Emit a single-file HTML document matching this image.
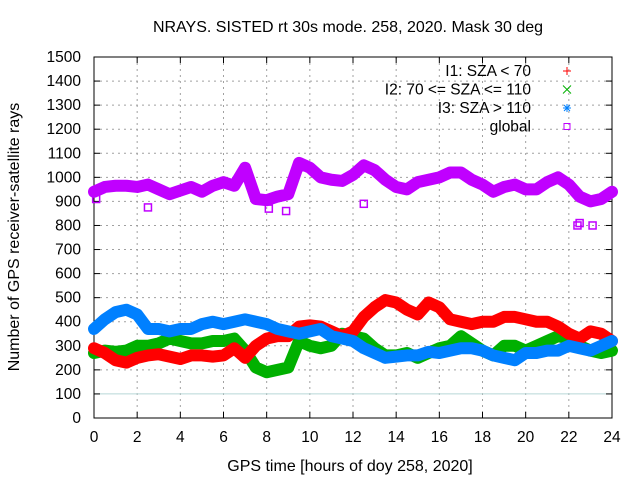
<!DOCTYPE html>
<html><head><meta charset="utf-8"><style>
body{margin:0;background:#fff}
svg{display:block;font-family:"Liberation Sans",sans-serif;font-size:15.5px}
</style></head><body>
<svg id="chart" width="640" height="480">
<rect width="640" height="480" fill="#fff"/>
<g id="grid"></g>
<g id="axes"></g>
<g id="series"></g>
<text x="348" y="32" text-anchor="middle" font-size="16">NRAYS. SISTED rt 30s mode. 258, 2020. Mask 30 deg</text>
<text x="350" y="471" text-anchor="middle" font-size="16">GPS time [hours of doy 258, 2020]</text>
<text x="19" y="237" text-anchor="middle" font-size="16" transform="rotate(-90 19 237)">Number of GPS receiver-satellite rays</text>
<g id="legend"></g>
</svg>
<script>
const hours=[0,0.5,1,1.5,2,2.5,3,3.5,4,4.5,5,5.5,6,6.5,7,7.5,8,8.5,9,9.5,10,10.5,11,11.5,12,12.5,13,13.5,14,14.5,15,15.5,16,16.5,17,17.5,18,18.5,19,19.5,20,20.5,21,21.5,22,22.5,23,23.5,24];
const globalVals=[940,960,965,965,960,970,950,930,945,960,940,965,980,965,1040,910,905,920,930,1060,1040,1000,990,985,1010,1050,1030,990,960,950,980,990,1000,1020,1020,990,970,940,960,970,950,950,980,1000,970,920,900,910,940];
const i1Vals=[290,270,240,230,250,260,265,255,245,260,260,255,260,290,250,300,330,340,340,380,385,380,360,340,360,420,460,490,480,450,430,480,460,410,400,390,400,400,420,420,410,400,400,380,350,330,360,350,320];
const i2Vals=[270,280,275,280,300,300,310,330,320,310,310,320,320,330,280,210,190,200,210,320,300,290,300,350,340,330,290,260,260,270,250,270,290,300,340,310,280,260,300,300,280,300,320,340,330,300,280,270,280];
const i3Vals=[370,410,440,450,430,370,370,360,370,370,390,400,390,400,410,400,390,370,360,350,360,370,340,330,320,290,270,250,255,260,260,275,270,280,290,290,280,260,250,240,270,270,280,280,300,290,280,300,320];
const outlierHours=[0.1,2.5,7,8.1,8.9,12.5,22.4,22.5,23.1];
const outlierVals=[910,875,1000,870,860,890,800,810,800];
const xTicks=[0,2,4,6,8,10,12,14,16,18,20,22,24];
const yTicks=[0,100,200,300,400,500,600,700,800,900,1000,1100,1200,1300,1400,1500];
const X0=94,X1=612,Y0=418,Y1=57;
const sx=h=>X0+h/24*(X1-X0);
const sy=v=>Y0-v/1500*(Y0-Y1);
const NS="http://www.w3.org/2000/svg";
function mk(tag,attrs,parent){const e=document.createElementNS(NS,tag);for(const k in attrs)e.setAttribute(k,attrs[k]);parent.appendChild(e);return e;}
const grid=document.getElementById('grid'),axes=document.getElementById('axes'),ser=document.getElementById('series'),leg=document.getElementById('legend');
xTicks.forEach(t=>{const x=sx(t);
 if(t>0&&t<24){const l=mk('line',{x1:x,x2:x,y1:Y1,y2:Y0,stroke:'#a0a0a0','stroke-dasharray':'2,4'},grid);}
 mk('line',{x1:x,x2:x,y1:Y0,y2:Y0-6,stroke:'#000'},axes);
 mk('line',{x1:x,x2:x,y1:Y1,y2:Y1+6,stroke:'#000'},axes);
 const tx=mk('text',{x:x,y:Y0+24,'text-anchor':'middle'},axes);tx.textContent=t;
 });
yTicks.forEach(t=>{const y=sy(t);
 if(t>0&&t<1500&&t!==100){const l=mk('line',{x1:X0,x2:X1,y1:y,y2:y,stroke:'#a0a0a0','stroke-dasharray':'2,4'},grid);}
 mk('line',{x1:X0,x2:X0+6,y1:y,y2:y,stroke:'#000'},axes);
 mk('line',{x1:X1,x2:X1-6,y1:y,y2:y,stroke:'#000'},axes);
 const tx=mk('text',{x:X0-13,y:y+5,'text-anchor':'end'},axes);tx.textContent=t;
 });
const ref=mk('line',{x1:X0,x2:X1,y1:sy(100),y2:sy(100),stroke:'#b8d8d8'},grid);


const frame=mk('rect',{x:X0,y:Y1,width:X1-X0,height:Y0-Y1,fill:'none',stroke:'#000'},axes);


function band(vals,color,name){
 const pts=hours.map((h,i)=>sx(h)+','+sy(vals[i])).join(' ');
 const p=mk('polyline',{points:pts,fill:'none',stroke:color,'stroke-width':12,'stroke-linejoin':'round','stroke-linecap':'round'},ser);
 
 
}
band(i2Vals,'#00b000','series-i2');
band(i1Vals,'#ff0000','series-i1');
band(i3Vals,'#0080ff','series-i3');
band(globalVals,'#c000ff','series-global');
outlierHours.forEach((h,i)=>{const r=mk('rect',{x:sx(h)-3.5,y:sy(outlierVals[i])-3.5,width:7,height:7,fill:'none',stroke:'#c000ff','stroke-width':1.5},ser);
 });
const legItems=[['I1: SZA < 70','#ff0000','+'],['I2: 70 <= SZA <= 110','#00b000','x'],['I3: SZA > 110','#0080ff','*'],['global','#c000ff','s']];
legItems.forEach((it,i)=>{const y=71+i*18.5;
 const g=mk('g',{},leg);
 const t=mk('text',{x:531,y:y+5,'text-anchor':'end'},g);t.textContent=it[0];
 const c=it[1],m=567;
 if(it[2]==='+'){mk('path',{d:`M${m-4} ${y}H${m+4}M${m} ${y-4}V${y+4}`,stroke:c},g);}
 else if(it[2]==='x'){mk('path',{d:`M${m-4} ${y-4}L${m+4} ${y+4}M${m-4} ${y+4}L${m+4} ${y-4}`,stroke:c},g);}
 else if(it[2]==='*'){mk('path',{d:`M${m-4} ${y}H${m+4}M${m} ${y-4}V${y+4}M${m-3} ${y-3}L${m+3} ${y+3}M${m-3} ${y+3}L${m+3} ${y-3}`,stroke:c},g);}
 else {mk('rect',{x:m-3,y:y-3,width:6,height:6,fill:'none',stroke:c},g);}
});
</script>
</body></html>
